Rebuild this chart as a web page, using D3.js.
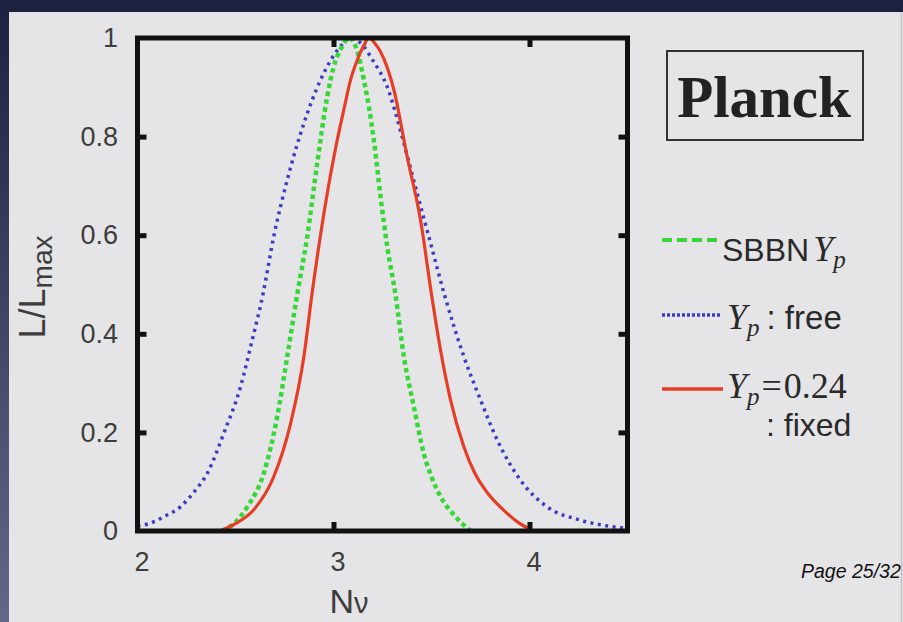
<!DOCTYPE html>
<html><head><meta charset="utf-8">
<script src="https://cdn.jsdelivr.net/npm/d3@7"></script>
<style>
body{margin:0;background:#1d2040;}
svg{display:block}
</style>
</head><body>
<svg id="c" width="903" height="622"></svg>
<script>
// ---- data ----
const xTickValues = [2, 3, 4];
const yTickValues = [0, 0.2, 0.4, 0.6, 0.8, 1];
const yTickLabels = ["0", "0.2", "0.4", "0.6", "0.8", "1"];

const sbbnN = [2.43, 2.50, 2.56, 2.644, 2.713, 2.764, 2.815, 2.866, 2.917, 2.968, 3.00, 3.04, 3.08, 3.12, 3.155, 3.206, 3.24, 3.274, 3.316, 3.359, 3.41, 3.46, 3.50, 3.546, 3.62, 3.70];
const sbbnL = [0.0, 0.018, 0.049, 0.117, 0.232, 0.354, 0.48, 0.597, 0.746, 0.881, 0.94, 0.98, 1.0, 0.975, 0.915, 0.793, 0.678, 0.577, 0.48, 0.354, 0.252, 0.158, 0.11, 0.07, 0.03, 0.0];

const freeN = [2.0, 2.066, 2.14, 2.219, 2.29, 2.356, 2.44, 2.526, 2.585, 2.64, 2.695, 2.764, 2.849, 2.934, 3.03, 3.09, 3.15, 3.2, 3.274, 3.35, 3.418, 3.495, 3.567, 3.665, 3.75, 3.835, 3.954, 4.09, 4.26, 4.4, 4.5];
const freeL = [0.01, 0.016, 0.03, 0.049, 0.08, 0.117, 0.198, 0.293, 0.387, 0.48, 0.597, 0.712, 0.827, 0.915, 0.98, 1.0, 0.985, 0.955, 0.901, 0.80, 0.698, 0.584, 0.478, 0.354, 0.266, 0.185, 0.103, 0.049, 0.022, 0.01, 0.005];

const fixedN = [2.42, 2.50, 2.593, 2.695, 2.781, 2.849, 2.89, 2.951, 3.019, 3.053, 3.087, 3.121, 3.155, 3.18, 3.21, 3.24, 3.308, 3.376, 3.444, 3.50, 3.546, 3.597, 3.665, 3.72, 3.79, 3.869, 3.94, 4.0];
const fixedL = [0.0, 0.015, 0.043, 0.11, 0.218, 0.354, 0.48, 0.644, 0.793, 0.855, 0.915, 0.955, 0.985, 1.0, 0.99, 0.972, 0.895, 0.759, 0.631, 0.48, 0.367, 0.266, 0.171, 0.118, 0.075, 0.042, 0.018, 0.004];

const seriesColors = {SBBN: "#35d835", free: "#3c3cc8", fixed: "#e63e26"};

// ---- setup ----
const svg = d3.select("#c");
const W = 903, H = 622;

const defs = svg.append("defs");
const lg = defs.append("linearGradient").attr("id", "lstrip").attr("x1", 0).attr("y1", 0).attr("x2", 0).attr("y2", 1);
lg.append("stop").attr("offset", "0%").attr("stop-color", "#1d2040");
lg.append("stop").attr("offset", "100%").attr("stop-color", "#65678a");
svg.append("rect").attr("width", W).attr("height", H).attr("fill", "#1d2040");
svg.append("rect").attr("x", 0).attr("y", 0).attr("width", 10).attr("height", H).attr("fill", "url(#lstrip)");
svg.append("rect").attr("x", 9).attr("y", 12).attr("width", W - 9).attr("height", H - 12).attr("fill", "#e5e5e7");
svg.append("line").attr("x1", 901.5).attr("x2", 901.5).attr("y1", 12).attr("y2", H).attr("stroke", "#c4c4c8").attr("stroke-width", 1.5);

const x = d3.scaleLinear().domain([2, 4.5]).range([137.5, 627.5]);
const y = d3.scaleLinear().domain([0, 1]).range([531, 38]);

const sans = "'Liberation Sans', Arial, Helvetica, sans-serif";
const serif = "'Liberation Serif', 'Times New Roman', serif";

// ---- curves ----
const line = d3.line().x(d => x(d[0])).y(d => y(d[1])).curve(d3.curveMonotoneX);
const seriesData = {
  SBBN: d3.zip(sbbnN, sbbnL),
  free: d3.zip(freeN, freeL),
  fixed: d3.zip(fixedN, fixedL)
};
const styles = {
  SBBN: {w: 4.5, dash: "4.5,3.5"},
  free: {w: 3.5, dash: "3,4.5"},
  fixed: {w: 3.2, dash: null}
};
const plot = svg.append("g");
["free", "SBBN", "fixed"].forEach(k => {
  plot.append("path").datum(seriesData[k])
    .attr("d", line)
    .attr("fill", "none")
    .attr("stroke", seriesColors[k])
    .attr("stroke-width", styles[k].w)
    .attr("stroke-dasharray", styles[k].dash)
    .attr("stroke-linejoin", "round");
});

// ---- frame & ticks ----
const frameColor = "#111";
svg.append("rect")
  .attr("x", x(2)).attr("y", y(1))
  .attr("width", x(4.5) - x(2)).attr("height", y(0) - y(1))
  .attr("fill", "none").attr("stroke", frameColor).attr("stroke-width", 5);

const tickLen = 9;
function styleAxis(g) {
  g.select(".domain").remove();
  g.selectAll(".tick line").attr("stroke", frameColor).attr("stroke-width", 5);
}
const innerY = yTickValues.filter(v => v > 0 && v < 1);
const innerX = xTickValues.filter(v => v > 2);
svg.append("g").attr("transform", `translate(${x(2)},0)`)
  .call(d3.axisLeft(y).tickValues(innerY).tickSize(-tickLen).tickFormat("")).call(styleAxis);
svg.append("g").attr("transform", `translate(${x(4.5)},0)`)
  .call(d3.axisRight(y).tickValues(innerY).tickSize(-tickLen).tickFormat("")).call(styleAxis);
svg.append("g").attr("transform", `translate(0,${y(0)})`)
  .call(d3.axisBottom(x).tickValues(innerX).tickSize(-tickLen).tickFormat("")).call(styleAxis);
svg.append("g").attr("transform", `translate(0,${y(1)})`)
  .call(d3.axisTop(x).tickValues(innerX).tickSize(-tickLen).tickFormat("")).call(styleAxis);

// tick labels
const labColor = "#3d3d3d";
const yLab = svg.append("g").attr("transform", `translate(118,0)`)
  .call(d3.axisLeft(y).tickValues(yTickValues).tickSize(0).tickPadding(0)
    .tickFormat((d, i) => yTickLabels[i]));
yLab.select(".domain").remove();
yLab.selectAll("text").attr("font-family", sans).attr("font-size", 27).attr("fill", labColor);

const xLab = svg.append("g").attr("transform", `translate(4,${y(0) + 21})`)
  .call(d3.axisBottom(x).tickValues(xTickValues).tickSize(0).tickPadding(0).tickFormat(d3.format("d")));
xLab.select(".domain").remove();
xLab.selectAll("text").attr("font-family", sans).attr("font-size", 27).attr("fill", labColor);

// axis titles
svg.append("text").attr("x", 349).attr("y", 613).attr("text-anchor", "middle")
  .attr("font-family", sans).attr("font-size", 34).attr("fill", labColor)
  .text("N").append("tspan").attr("font-size", 29).text("ν");

const yt = svg.append("text").attr("transform", "translate(45,287) rotate(-90)")
  .attr("text-anchor", "middle").attr("font-family", sans).attr("font-size", 36).attr("fill", labColor);
yt.append("tspan").text("L/L");
yt.append("tspan").attr("font-size", 28).attr("dy", 7).text("max");

// ---- Planck box ----
svg.append("rect").attr("x", 667).attr("y", 51).attr("width", 196).attr("height", 89)
  .attr("fill", "none").attr("stroke", "#333").attr("stroke-width", 2);
svg.append("text").attr("x", 764).attr("y", 117).attr("text-anchor", "middle")
  .attr("font-family", serif).attr("font-weight", "bold").attr("font-size", 59).attr("fill", "#222")
  .text("Planck");

// ---- legend ----
const legend = svg.append("g");
const legItems = [
  {k: "SBBN", y: 240, x2: 718, dash: "10,5", w: 4},
  {k: "free", y: 315, x2: 722, dash: "3,2", w: 3.5},
  {k: "fixed", y: 389, x2: 723, dash: null, w: 3.5}
];
legItems.forEach(it => {
  legend.append("line").attr("x1", 662).attr("x2", it.x2).attr("y1", it.y).attr("y2", it.y)
    .attr("stroke", seriesColors[it.k]).attr("stroke-width", it.w).attr("stroke-dasharray", it.dash);
});
const txtColor = "#2a2a2a";
const mathSize = 36, subSize = 25, textSize = 32;
// SBBN Y_p
let t = legend.append("text").attr("x", 722).attr("y", 261).attr("fill", txtColor);
t.append("tspan").attr("font-family", sans).attr("font-size", textSize).text("SBBN");
t.append("tspan").attr("font-family", serif).attr("font-style", "italic").attr("font-size", mathSize).attr("dx", 4).text("Y");
t.append("tspan").attr("font-family", serif).attr("font-style", "italic").attr("font-size", subSize).attr("dy", 7).text("p");
// Y_p : free
t = legend.append("text").attr("x", 727).attr("y", 329).attr("fill", txtColor);
t.append("tspan").attr("font-family", serif).attr("font-style", "italic").attr("font-size", mathSize).text("Y");
t.append("tspan").attr("font-family", serif).attr("font-style", "italic").attr("font-size", subSize).attr("dy", 7).text("p");
t.append("tspan").attr("font-family", sans).attr("font-size", 33).attr("dy", -7).attr("dx", 7).text(": free");
// Y_p = 0.24
t = legend.append("text").attr("x", 727).attr("y", 398).attr("fill", txtColor);
t.append("tspan").attr("font-family", serif).attr("font-style", "italic").attr("font-size", mathSize).text("Y");
t.append("tspan").attr("font-family", serif).attr("font-style", "italic").attr("font-size", subSize).attr("dy", 7).text("p");
t.append("tspan").attr("font-family", serif).attr("font-size", mathSize).attr("dy", -7).attr("dx", 2).text("=");
t.append("tspan").attr("font-family", serif).attr("font-size", mathSize).attr("dx", 2).text("0.24");
// : fixed
legend.append("text").attr("x", 766).attr("y", 436).attr("fill", txtColor)
  .attr("font-family", sans).attr("font-size", textSize).text(": fixed");

// page number
svg.append("text").attr("x", 801).attr("y", 578).attr("font-family", sans).attr("font-style", "italic")
  .attr("font-size", 19.5).attr("fill", "#111").text("Page 25/32");
</script>
</body></html>
